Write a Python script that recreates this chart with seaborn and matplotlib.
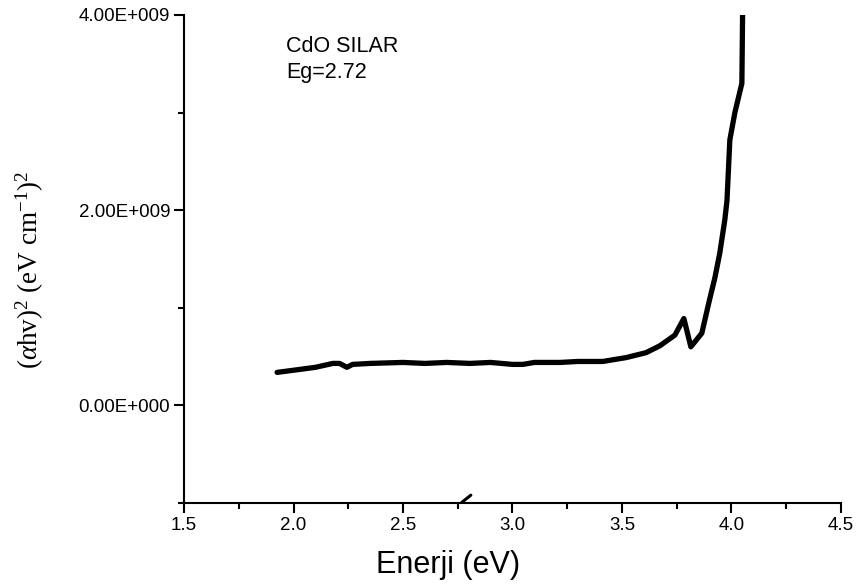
import matplotlib
matplotlib.use("Agg")
import matplotlib.pyplot as plt
from matplotlib.ticker import FuncFormatter, MultipleLocator
import numpy as np
import pandas as pd
import seaborn as sns

# Tauc plot for CdO film grown by SILAR
energy_ev = [1.925, 2.00, 2.10, 2.18, 2.21, 2.244, 2.27, 2.35, 2.50, 2.60, 2.70,
             2.806, 2.90, 3.00, 3.048, 3.10, 3.217, 3.30, 3.413, 3.52, 3.61,
             3.673, 3.742, 3.783, 3.815, 3.865, 3.90, 3.925, 3.947, 3.97, 3.98,
             3.993, 4.016, 4.048, 4.053]
alpha_hv_sq_e9 = [0.338, 0.36, 0.39, 0.43, 0.43, 0.39, 0.42, 0.43, 0.44, 0.43, 0.44,
                  0.43, 0.44, 0.42, 0.42, 0.44, 0.44, 0.45, 0.45, 0.49, 0.54,
                  0.61, 0.72, 0.89, 0.60, 0.74, 1.08, 1.31, 1.56, 1.90, 2.10,
                  2.72, 3.00, 3.30, 4.40]

# short stray segment near the energy axis
stray_x = [2.768, 2.81]
stray_y_e9 = [-0.995, -0.92]

annotation_lines = ["CdO SILAR", "Eg=2.72"]

df = pd.DataFrame({"E": energy_ev, "A": np.array(alpha_hv_sq_e9) * 1e9})
df_stray = pd.DataFrame({"E": stray_x, "A": np.array(stray_y_e9) * 1e9})

sns.set_style("ticks")
plt.rcParams["font.family"] = ["Liberation Sans", "DejaVu Sans"]
plt.rcParams["text.color"] = "black"
plt.rcParams["axes.labelcolor"] = "black"
plt.rcParams["mathtext.fontset"] = "custom"
plt.rcParams["mathtext.rm"] = "Liberation Serif"
plt.rcParams["mathtext.it"] = "Liberation Serif:italic"

fig = plt.figure(figsize=(8.58, 5.88), dpi=100)
ax = fig.add_axes([0.2145, 0.1446, 0.7655, 0.8299])

sns.lineplot(data=df, x="E", y="A", sort=False, estimator=None,
             color="black", linewidth=3.8, ax=ax)
sns.lineplot(data=df_stray, x="E", y="A", sort=False, estimator=None,
             color="black", linewidth=2.2, ax=ax)

ax.set_xlim(1.5, 4.5)
ax.set_ylim(-1e9, 4e9)

ax.xaxis.set_major_locator(MultipleLocator(0.5))
ax.xaxis.set_minor_locator(MultipleLocator(0.25))
ax.yaxis.set_major_locator(MultipleLocator(2e9))
ax.yaxis.set_minor_locator(MultipleLocator(1e9))


def sci_fmt(v, pos):
    if v == 0:
        return "0.00E+000"
    exp = int(np.floor(np.log10(abs(v))))
    mant = v / 10 ** exp
    sign = "+" if exp >= 0 else "-"
    return f"{mant:.2f}E{sign}{abs(exp):03d}"


ax.yaxis.set_major_formatter(FuncFormatter(sci_fmt))
ax.xaxis.set_major_formatter(FuncFormatter(lambda v, p: f"{v:.1f}"))

for side in ("top", "right"):
    ax.spines[side].set_visible(False)
for side in ("left", "bottom"):
    ax.spines[side].set_linewidth(1.5)
    ax.spines[side].set_color("black")

ax.tick_params(axis="both", which="major", direction="out", length=7, width=1.5,
               labelsize=13.5, colors="black", pad=3)
ax.tick_params(axis="both", which="minor", direction="out", length=4, width=1.5,
               colors="black")

ax.set_xlabel("Enerji (eV)", fontsize=22, color="black")
ax.xaxis.set_label_coords(0.402, -0.128)
ax.set_ylabel(r"($\alpha$hv)$^2$ (eV cm$^{-1}$)$^2$", fontsize=19.5,
              family="Liberation Serif", color="black")
ax.yaxis.set_label_coords(-0.234, 0.477)
ax.yaxis.label.set_va("center")
ax.xaxis.label.set_va("center")

ax.text(0.155, 0.957, "\n".join(annotation_lines), transform=ax.transAxes,
        fontsize=15.5, va="top", ha="left", linespacing=1.3, color="black")

fig.savefig("out.png", dpi=100)
